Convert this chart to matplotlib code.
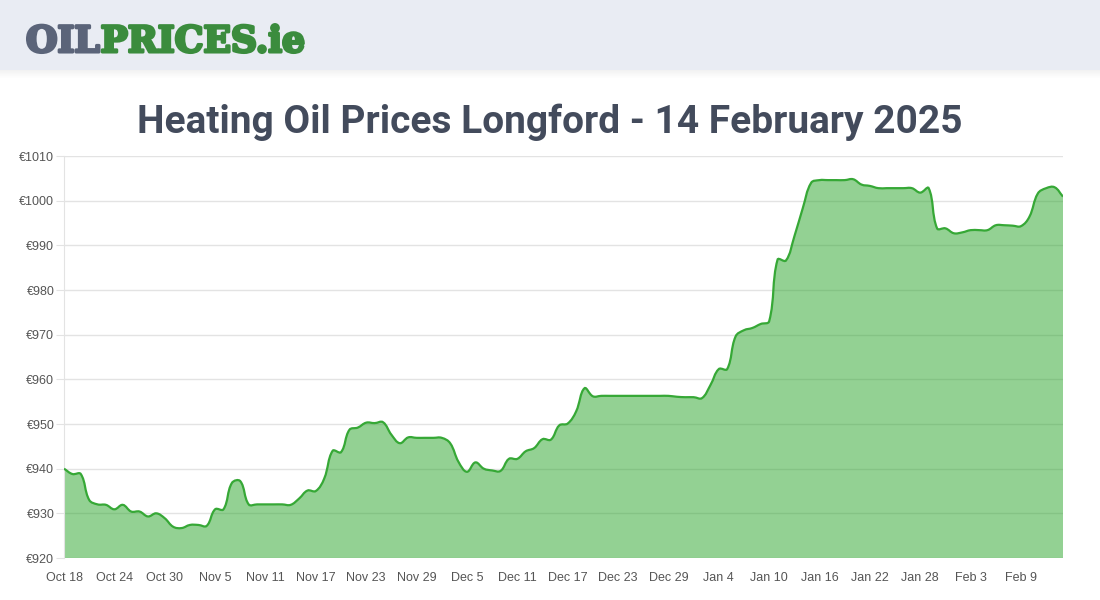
import numpy as np
import pandas as pd
import matplotlib
matplotlib.use("Agg")
import matplotlib.pyplot as plt
import matplotlib.patheffects as pe
from matplotlib.path import Path
from matplotlib.patches import PathPatch, Rectangle

# daily heating oil price, Longford (EUR per 1000 L), 18 Oct 2024 .. 14 Feb 2025
start_date = "2024-10-18"
prices = [
    940.0, 938.8, 938.8, 933.0, 932.0, 931.9, 930.9, 931.9, 930.4, 930.4,
    929.3, 930.0, 928.9, 927.0, 926.7, 927.4, 927.4, 927.2, 930.9, 930.9,
    936.8, 937.2, 932.0, 932.0, 932.0, 932.0, 932.0, 931.9, 933.3, 935.1,
    935.0, 937.8, 944.0, 943.7, 948.7, 949.2, 950.3, 950.2, 950.4, 947.6,
    945.7, 947.0, 946.9, 946.9, 946.9, 946.9, 945.7, 941.5, 939.3, 941.4,
    940.0, 939.6, 939.5, 942.2, 942.2, 943.9, 944.6, 946.6, 946.5, 949.7,
    950.1, 952.8, 958.0, 956.2, 956.3, 956.3, 956.3, 956.3, 956.3, 956.3,
    956.3, 956.3, 956.3, 956.1, 956.0, 956.0, 955.8, 958.7, 962.3, 962.3,
    969.6, 971.0, 971.5, 972.4, 973.0, 986.8, 986.6, 992.0, 998.3, 1004.0,
    1004.6, 1004.6, 1004.6, 1004.6, 1004.8, 1003.6, 1003.3, 1002.8, 1002.8, 1002.8,
    1002.8, 1002.8, 1001.8, 1002.8, 993.8, 993.8, 992.7, 992.9, 993.4, 993.4,
    993.4, 994.5, 994.5, 994.4, 994.3, 996.4, 1001.6, 1002.8, 1003.0, 1000.9,
]
y_ticks = [920, 930, 940, 950, 960, 970, 980, 990, 1000, 1010]
tick_every = 6

title = "Heating Oil Prices Longford - 14 February 2025"

dates = pd.date_range(start_date, periods=len(prices), freq="D")
labels = [f"{d.strftime('%b')} {d.day}" for d in dates]
xs = np.arange(len(prices))

W, H = 1100, 600
fig = plt.figure(figsize=(W / 100, H / 100), dpi=100)
fig.patch.set_facecolor("white")

# 1) header band + soft shadow
fig.patches.append(Rectangle((0, 1 - 70 / H), 1, 70 / H, transform=fig.transFigure,
                             facecolor="#e9ecf3", edgecolor="none", zorder=0))
for i in range(8):
    fig.patches.append(Rectangle((0, 1 - (71 + i) / H), 1, 1 / H, transform=fig.transFigure,
                                 facecolor="black", alpha=0.05 * (1 - i / 8),
                                 edgecolor="none", zorder=0))

logo_font = dict(family="DejaVu Serif", weight="bold", fontsize=26)
t1 = fig.text(26 / W, 1 - 52 / H, "OIL", color="#5b6479", **logo_font,
              path_effects=[pe.withStroke(linewidth=2.2, foreground="#5b6479")])
fig.canvas.draw()
bb = t1.get_window_extent()
fig.text((bb.x1 + 1) / W, 1 - 52 / H, "PRICES.ie", color="#3b8c3d", **logo_font,
         path_effects=[pe.withStroke(linewidth=2.2, foreground="#3b8c3d")])

# 2) title
fig.text(0.5, 1 - 133 / H, title, ha="center", va="baseline",
         family=["Liberation Sans Narrow", "Roboto", "DejaVu Sans"],
         weight="bold", fontsize=28, color="#434b5c")

# 3) chart
ax = fig.add_axes([64 / W, 42 / H, 999 / W, 402 / H])
ax.set_xlim(0, len(prices) - 1)
ax.set_ylim(y_ticks[0], y_ticks[-1])
ax.set_yticks(y_ticks)
ax.set_yticklabels([f"€{v}" for v in y_ticks])
ax.set_xticks(xs[::tick_every])
ax.set_xticklabels(labels[::tick_every])
ax.grid(axis="y", color="#e3e3e3", linewidth=1, zorder=0)
ax.set_axisbelow(True)
for s in ["top", "right", "bottom"]:
    ax.spines[s].set_visible(False)
ax.spines["left"].set_color("#e3e3e3")
ax.tick_params(axis="y", length=6, color="#e3e3e3", labelsize=9, labelcolor="#555555", pad=1)
ax.tick_params(axis="x", length=0, labelsize=9, labelcolor="#555555", pad=10)
for lab in ax.get_xticklabels() + ax.get_yticklabels():
    lab.set_family(["Liberation Sans", "DejaVu Sans"])

# smooth curve the way Chart.js does it (tension 0.4, distances in pixels)
pts = ax.transData.transform(np.column_stack([xs, prices]))
tension = 0.4
n = len(pts)
cp_prev = np.zeros_like(pts)
cp_next = np.zeros_like(pts)
for i in range(n):
    prev = pts[i - 1] if i > 0 else pts[i]
    nxt = pts[i + 1] if i < n - 1 else pts[i]
    d01 = np.hypot(*(pts[i] - prev))
    d12 = np.hypot(*(nxt - pts[i]))
    tot = d01 + d12
    s01 = d01 / tot if tot else 0
    s12 = d12 / tot if tot else 0
    cp_prev[i] = pts[i] - tension * s01 * (nxt - prev)
    cp_next[i] = pts[i] + tension * s12 * (nxt - prev)

inv = ax.transData.inverted()
pts_d, cpp_d, cpn_d = inv.transform(pts), inv.transform(cp_prev), inv.transform(cp_next)
verts = [pts_d[0]]
codes = [Path.MOVETO]
for i in range(1, n):
    verts += [cpn_d[i - 1], cpp_d[i], pts_d[i]]
    codes += [Path.CURVE4] * 3

line_path = Path(verts, codes)
fill_path = Path(verts + [(xs[-1], y_ticks[0]), (xs[0], y_ticks[0]), verts[0]],
                 codes + [Path.LINETO, Path.LINETO, Path.CLOSEPOLY])

ax.add_patch(PathPatch(fill_path, facecolor="#28a428", alpha=0.5, edgecolor="none", zorder=2))
ax.add_patch(PathPatch(line_path, facecolor="none", edgecolor="#36a836", linewidth=1.6, zorder=3))

fig.savefig("out.png", dpi=100)
